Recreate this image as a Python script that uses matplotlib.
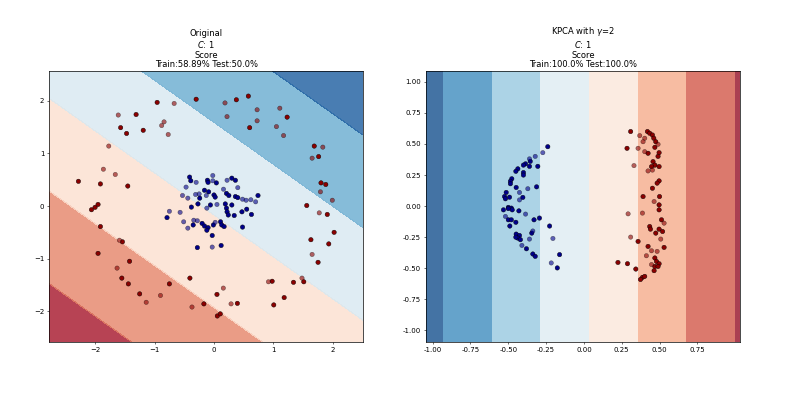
import numpy as np
import matplotlib
matplotlib.use("Agg")
import matplotlib.pyplot as plt
from matplotlib.colors import ListedColormap
from matplotlib.ticker import FormatStrFormatter

# Points: (x, y) pairs, split by class and train/test
orig_red_train = [(-1.31, 1.74), (-0.956, 1.97), (-1.57, 1.49), (-1.47, 1.38), (-1.19, 1.44),
                  (-0.30, 2.03), (0.376, 2.02), (0.578, 2.09), (0.60, 1.49), (1.23, 1.69),
                  (1.686, 1.14), (1.76, 0.94), (-2.28, 0.47), (-1.91, 0.42), (-1.45, 0.38),
                  (1.80, 0.44), (1.88, 0.41), (1.56, 0.01), (1.905, -0.16), (2.02, -0.50),
                  (1.63, -0.64), (1.93, -0.72), (1.75, -1.07), (-2.06, -0.07), (-2.00, -0.025),
                  (-1.95, 0.03), (-1.91, -0.39), (-1.54, -0.68), (-1.95, -0.90), (-1.42, -1.05),
                  (-1.55, -1.37), (-1.44, -1.48), (-1.25, -1.67), (-0.75, -1.48), (-0.405, -1.37),
                  (-0.17, -1.86), (0.05, -1.68), (0.056, -2.09), (0.106, -2.05), (0.393, -1.85),
                  (0.978, -1.43), (1.005, -1.88), (1.18, -1.74), (1.337, -1.45), (1.51, -1.44)]
orig_red_test = [(-1.61, 1.73), (-0.67, 1.95), (-0.84, 1.60), (-0.88, 1.53), (-0.77, 1.36),
                 (0.185, 1.96), (0.219, 1.70), (0.725, 1.83), (0.725, 1.62), (1.107, 1.86),
                 (1.05, 1.51), (1.17, 1.34), (1.83, 1.12), (1.65, 0.91), (-1.77, 1.14),
                 (-1.86, 0.70), (-1.66, 0.60), (1.79, 0.27), (1.99, 0.11), (1.77, -0.13),
                 (1.65, -0.92), (-1.59, -0.65), (-1.63, -1.18), (-1.14, -1.83), (-0.90, -1.70),
                 (-0.37, -1.92), (0.157, -1.56), (0.287, -1.86), (0.916, -1.44), (1.48, -1.37)]
orig_blue_train = [(-0.41, 0.55), (-0.39, 0.48), (-0.11, 0.49), (-0.10, 0.45), (0.04, 0.44),
                   (0.30, 0.53), (0.36, 0.49), (-0.16, 0.30), (-0.09, 0.27), (0.00, 0.21),
                   (0.02, 0.17), (-0.24, 0.15), (0.21, 0.24), (0.25, 0.20), (0.36, 0.18),
                   (0.40, 0.16), (0.74, 0.20), (-0.27, 0.04), (-0.38, -0.02), (-0.06, 0.02),
                   (0.19, 0.04), (0.30, 0.02), (0.21, -0.04), (0.22, -0.11), (0.24, -0.17),
                   (0.34, -0.18), (0.47, -0.11), (0.55, -0.06), (0.63, -0.16), (-0.79, -0.22),
                   (-0.35, -0.36), (-0.20, -0.33), (-0.16, -0.38), (-0.10, -0.41), (-0.12, -0.46),
                   (-0.01, -0.36), (0.11, -0.30), (0.13, -0.36), (0.17, -0.39), (-0.03, -0.56),
                   (0.48, -0.40), (-0.28, -0.79), (0.12, -0.75)]
orig_blue_test = [(-0.30, 0.45), (-0.47, 0.36), (-0.02, 0.58), (-0.02, 0.48), (0.22, 0.49),
                  (0.40, 0.35), (-0.25, 0.23), (-0.31, 0.22), (-0.53, 0.20), (-0.44, 0.15),
                  (-0.13, 0.20), (0.16, 0.32), (0.48, 0.13), (0.54, 0.11), (0.62, 0.12),
                  (0.70, 0.08), (-0.12, -0.04), (0.05, 0.03), (-0.75, -0.10), (-0.57, -0.12),
                  (-0.51, -0.30), (-0.44, -0.42), (-0.34, -0.27), (-0.28, -0.28), (0.02, -0.31),
                  (-0.03, -0.78)]

kpca_blue_train = [(-0.239, 0.478), (-0.355, 0.36), (-0.386, 0.34), (-0.40, 0.33), (-0.36, 0.32),
                   (-0.305, 0.32), (-0.437, 0.30), (-0.45, 0.28), (-0.40, 0.27), (-0.40, 0.25),
                   (-0.477, 0.22), (-0.486, 0.20), (-0.486, 0.18), (-0.448, 0.15), (-0.313, 0.155),
                   (-0.514, 0.11), (-0.525, 0.077), (-0.492, 0.072), (-0.404, 0.07), (-0.519, 0.059),
                   (-0.50, -0.01), (-0.48, -0.016), (-0.532, -0.03), (-0.50, -0.02), (-0.474, -0.03),
                   (-0.43, -0.038), (-0.50, -0.11), (-0.48, -0.11), (-0.45, -0.13), (-0.49, -0.16),
                   (-0.33, -0.11), (-0.294, -0.096), (-0.227, -0.16), (-0.345, -0.217), (-0.448, -0.225),
                   (-0.426, -0.236), (-0.437, -0.257), (-0.45, -0.25), (-0.42, -0.27), (-0.38, -0.343),
                   (-0.338, -0.385), (-0.322, -0.404), (-0.161, -0.39), (-0.176, -0.497)]
kpca_blue_test = [(-0.272, 0.43), (-0.322, 0.40), (-0.36, 0.38), (-0.371, 0.14), (-0.426, 0.11),
                  (-0.426, 0.05), (-0.386, -0.064), (-0.519, -0.083), (-0.338, -0.20), (-0.36, -0.265),
                  (-0.205, -0.26), (-0.41, -0.316), (-0.216, -0.457)]
kpca_red_train = [(0.309, 0.60), (0.42, 0.60), (0.435, 0.586), (0.453, 0.572), (0.462, 0.546),
                  (0.475, 0.518), (0.285, 0.465), (0.424, 0.425), (0.469, 0.473), (0.497, 0.43),
                  (0.49, 0.40), (0.457, 0.358), (0.469, 0.33), (0.447, 0.318), (0.497, 0.318),
                  (0.497, 0.203), (0.484, 0.185), (0.453, 0.144), (0.391, 0.077), (0.50, 0.077),
                  (0.497, 0.01), (0.497, -0.03), (0.513, -0.11), (0.435, -0.164), (0.44, -0.185),
                  (0.497, -0.185), (0.475, -0.217), (0.52, -0.204), (0.358, -0.284), (0.424, -0.324),
                  (0.53, -0.332), (0.469, -0.417), (0.48, -0.445), (0.497, -0.463), (0.469, -0.485),
                  (0.49, -0.485), (0.464, -0.519), (0.225, -0.453), (0.288, -0.463), (0.343, -0.506),
                  (0.387, -0.573), (0.402, -0.565), (0.374, -0.59)]
kpca_red_test = [(0.369, 0.567), (0.402, 0.546), (0.391, 0.518), (0.49, 0.497), (0.358, 0.465),
                 (0.402, 0.438), (0.331, 0.326), (0.424, 0.283), (0.453, 0.29), (0.464, 0.037),
                 (0.292, -0.062), (0.387, -0.056), (0.53, -0.137), (0.508, -0.265), (0.309, -0.249),
                 (0.447, -0.359), (0.484, -0.364), (0.413, -0.399), (0.447, -0.47)]

# Linear decision functions (estimated from the band boundaries): f = w0*x + w1*y + b
orig_coef = [0.227, 0.284]
orig_intercept = 0.048
kpca_coef = [-1.553, 0.0]
kpca_intercept = 0.051

orig_levels = [-1.5, -1.0, -0.5, 0.0, 0.5, 1.0, 1.5]
kpca_levels = [-2.0, -1.5, -1.0, -0.5, 0.0, 0.5, 1.0, 1.5, 2.0]

titles = ["Original\n$C$: 1\nScore\nTrain:58.89% Test:50.0%",
          "KPCA with $\\gamma$=2\n$C$: 1\nScore\nTrain:100.0% Test:100.0%"]

cm = plt.cm.RdBu
cm_bright = ListedColormap(["darkred", "darkblue"])

plt.rcParams["font.size"] = 5
plt.rcParams["axes.linewidth"] = 0.5
plt.rcParams["xtick.major.size"] = 1.75
plt.rcParams["ytick.major.size"] = 1.75
plt.rcParams["xtick.major.width"] = 0.4
plt.rcParams["ytick.major.width"] = 0.4
plt.rcParams["xtick.major.pad"] = 1.8
plt.rcParams["ytick.major.pad"] = 1.8

fig, axes = plt.subplots(1, 2, figsize=(8, 3.98), dpi=100)
fig.subplots_adjust(left=0.0616, right=0.925, bottom=0.14, top=0.822, wspace=0.2)


def draw_panel(ax, red_train, red_test, blue_train, blue_test, coef, intercept,
               levels, xlim, ylim, title):
    xx, yy = np.meshgrid(np.linspace(xlim[0], xlim[1], 400),
                         np.linspace(ylim[0], ylim[1], 400))
    Z = coef[0] * xx + coef[1] * yy + intercept
    ax.contourf(xx, yy, Z, levels=levels, cmap=cm, alpha=0.8)

    # training points
    tr = np.array(red_train + blue_train)
    tr_y = [0] * len(red_train) + [1] * len(blue_train)
    ax.scatter(tr[:, 0], tr[:, 1], c=tr_y, cmap=cm_bright, vmin=0, vmax=1,
               s=10, edgecolors="k", linewidths=0.3)
    # testing points
    te = np.array(red_test + blue_test)
    te_y = [0] * len(red_test) + [1] * len(blue_test)
    ax.scatter(te[:, 0], te[:, 1], c=te_y, cmap=cm_bright, vmin=0, vmax=1,
               s=10, edgecolors="k", linewidths=0.3, alpha=0.6)

    ax.set_xlim(xlim)
    ax.set_ylim(ylim)
    ax.set_title(title, fontsize=6, pad=2.5, linespacing=1.1)


draw_panel(axes[0], orig_red_train, orig_red_test, orig_blue_train, orig_blue_test,
           orig_coef, orig_intercept, orig_levels, (-2.77, 2.51), (-2.59, 2.57), titles[0])
draw_panel(axes[1], kpca_red_train, kpca_red_test, kpca_blue_train, kpca_blue_test,
           kpca_coef, kpca_intercept, kpca_levels, (-1.044, 1.032), (-1.095, 1.088), titles[1])

axes[0].set_xticks([-2, -1, 0, 1, 2])
axes[0].set_yticks([-2, -1, 0, 1, 2])
axes[1].set_xticks(np.arange(-1.0, 0.76, 0.25))
axes[1].set_yticks(np.arange(-1.0, 1.01, 0.25))
axes[1].xaxis.set_major_formatter(FormatStrFormatter("%.2f"))
axes[1].yaxis.set_major_formatter(FormatStrFormatter("%.2f"))

fig.savefig("out.png", dpi=100)
